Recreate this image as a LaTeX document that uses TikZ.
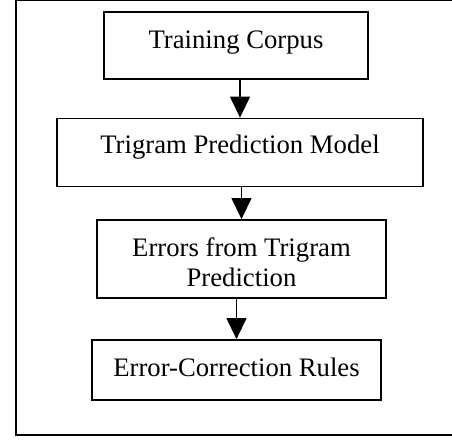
\documentclass[tikz,border=0pt]{standalone}
\usepackage{fontspec}
\setmainfont{Liberation Serif}
\usetikzlibrary{arrows.meta}

\begin{document}
\begin{tikzpicture}[x=1pt,y=-1pt,
        stage/.style={rectangle,draw,line width=1.8pt,inner sep=0pt,align=center,
                text height=18pt,font=\fontsize{26.7}{30}\selectfont},
        flow/.style={line width=1.3pt,-{Triangle[length=21pt,width=20pt]}}]
        \useasboundingbox (0,0) rectangle (452,439);
        \clip (0,0) rectangle (452,439);
        \draw[line width=2pt] (16,-0.3) rectangle (470,435);

        \node[stage,text depth=12.4pt,minimum width=264pt,minimum height=67pt] (b1) at (236,45.5) {Training Corpus};
        \node[stage,text depth=15.4pt,minimum width=366pt,minimum height=68pt] (b2) at (240,152.5) {Trigram Prediction Model};
        \node[stage,text height=60pt,text depth=6pt,minimum width=289pt,minimum height=78pt] (b3) at (241.5,259) {Errors from Trigram\\Prediction};
        \node[stage,text depth=4.6pt,minimum width=289pt,minimum height=60pt] (b4) at (236.5,370) {Error-Correction Rules};

        \draw[flow] (b1.south -| b2.north) -- (b2.north);
        \draw[flow] (b2.south -| b3.north) -- (b3.north);
        \draw[flow] (b3.south -| b4.north) -- (b4.north);
\end{tikzpicture}
\end{document}
